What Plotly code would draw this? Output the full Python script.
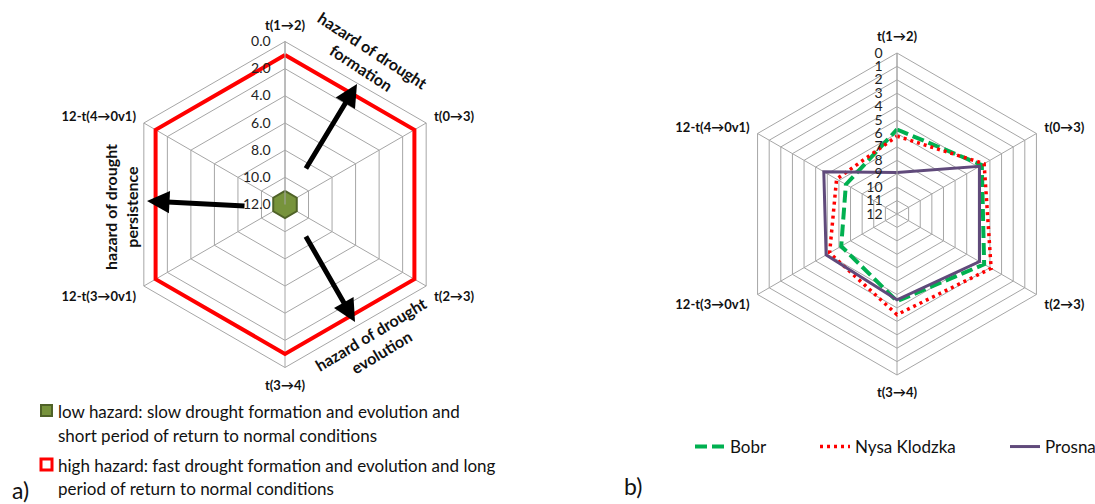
import plotly.graph_objects as go

categories = ["t(1→2)", "t(0→3)", "t(2→3)", "t(3→4)", "12-t(3→0v1)", "12-t(4→0v1)"]

# left panel (a)
low_hazard = [11, 11, 11, 11, 11, 11]
high_hazard = [1, 1, 1, 1, 1, 1]
left_ticks = [0, 2, 4, 6, 8, 10, 12]
left_ticktext = ["0.0", "2.0", "4.0", "6.0", "8.0", "10.0", "12.0"]

# right panel (b)
bobr = [5.7, 4.7, 4.5, 5.5, 7.2, 7.6]
nysa = [6.2, 4.5, 3.9, 4.5, 6.2, 6.8]
prosna = [8.9, 4.9, 4.9, 5.6, 5.9, 5.7]
right_ticks = list(range(0, 13))

FONT = "Lato, 'DejaVu Sans', sans-serif"
GRID = "#A6A6A6"


def close(v):
    return list(v) + [v[0]]


cats_c = close(categories)

fig = go.Figure()

fig.add_trace(go.Scatterpolar(
    r=close(low_hazard), theta=cats_c, mode="lines", fill="toself",
    fillcolor="#77933C", line=dict(color="#4F6228", width=2),
    subplot="polar", showlegend=False))
fig.add_trace(go.Scatterpolar(
    r=close(high_hazard), theta=cats_c, mode="lines",
    line=dict(color="#FF0000", width=4),
    subplot="polar", showlegend=False))

fig.add_trace(go.Scatterpolar(
    r=close(bobr), theta=cats_c, mode="lines", name="Bobr",
    line=dict(color="#00B050", width=4, dash="12px,5px"),
    subplot="polar2", legendwidth=80))
fig.add_trace(go.Scatterpolar(
    r=close(nysa), theta=cats_c, mode="lines", name="Nysa Klodzka",
    line=dict(color="#FF0000", width=3.5, dash="3px,4px"),
    subplot="polar2", legendwidth=145))
fig.add_trace(go.Scatterpolar(
    r=close(prosna), theta=cats_c, mode="lines", name="Prosna",
    line=dict(color="#604A7B", width=3),
    subplot="polar2"))


def polar_layout(domx, domy, tickvals, ticktext):
    return dict(
        domain=dict(x=domx, y=domy),
        gridshape="linear",
        bgcolor="white",
        radialaxis=dict(
            range=[12, 0], tickvals=tickvals, ticktext=ticktext,
            angle=90, side="counterclockwise", tickangle=90,
            showline=True, linecolor=GRID, linewidth=1,
            gridcolor=GRID, gridwidth=1,
            ticks="outside", ticklen=9, tickcolor="rgba(0,0,0,0)",
            tickfont=dict(family=FONT, size=14, color="#222"),
        ),
        angularaxis=dict(
            direction="clockwise", rotation=90, type="category",
            categoryarray=categories,
            showline=True, linecolor=GRID, linewidth=1,
            gridcolor=GRID, gridwidth=1,
            ticks="outside", ticklen=6, tickcolor="rgba(0,0,0,0)",
            tickfont=dict(family=FONT, size=13, color="#111", weight="bold"),
        ),
    )


W, H = 1095, 504
lc = (285, 204.5, 163)
rc = (897, 214, 161)


def dom(c):
    x, y, R = c
    return [(x - R) / W, (x + R) / W], [(H - y - R) / H, (H - y + R) / H]


ldx, ldy = dom(lc)
rdx, rdy = dom(rc)

fig.update_layout(
    width=W, height=H,
    margin=dict(l=0, r=0, t=0, b=0, autoexpand=False),
    paper_bgcolor="white",
    font=dict(family=FONT, size=14, color="#111"),
    polar=polar_layout(ldx, ldy, left_ticks, left_ticktext),
    polar2=polar_layout(rdx, rdy, right_ticks, [str(v) for v in right_ticks]),
    legend=dict(orientation="h", x=690 / W, y=(H - 447) / H, yanchor="middle",
                xanchor="left", font=dict(family=FONT, size=17, color="#111"),
                bgcolor="rgba(0,0,0,0)"),
)


def px(x, y):
    return x / W, (H - y) / H


annotations = []
# arrows (left panel)
for (tx, ty), (hx, hy) in [((305, 170), (357, 84)), ((246, 206), (147, 201)), ((305, 235), (355, 322))]:
    x, y = px(hx, hy)
    annotations.append(dict(x=x, y=y, xref="paper", yref="paper", ax=tx - hx, ay=ty - hy,
                            showarrow=True, arrowhead=2, arrowsize=0.9, arrowwidth=5,
                            arrowcolor="black", text=""))

# rotated labels
for txt, (cx, cy), ang in [
    ("<b>hazard of drought<br>formation</b>", (367, 59), 33),
    ("<b>hazard of drought<br>persistence</b>", (121, 207), -90),
    ("<b>hazard of drought<br>evolution</b>", (376, 343), -31),
]:
    x, y = px(cx, cy)
    annotations.append(dict(x=x, y=y, xref="paper", yref="paper", text=txt, showarrow=False,
                            textangle=ang, font=dict(family=FONT, size=16, color="#111"),
                            xanchor="center", yanchor="middle", align="center"))

# left legend texts
for txt, (x0, yc) in [
    ("low hazard: slow drought formation and evolution and", (56, 411)),
    ("short period of return to normal conditions", (56, 435)),
    ("high hazard: fast drought formation and evolution and long", (56, 465)),
    ("period of return to normal conditions", (56, 488)),
]:
    x, y = px(x0, yc)
    annotations.append(dict(x=x, y=y, xref="paper", yref="paper", text=txt, showarrow=False,
                            xanchor="left", yanchor="middle",
                            font=dict(family=FONT, size=17, color="#111")))

for txt, (x0, yc) in [("a)", (10, 490)), ("b)", (622, 486))]:
    x, y = px(x0, yc)
    annotations.append(dict(x=x, y=y, xref="paper", yref="paper", text=txt, showarrow=False,
                            xanchor="left", yanchor="middle",
                            font=dict(family=FONT, size=23, color="#111")))

fig.update_layout(annotations=annotations)

# legend key squares for panel (a)
shapes = []
for (x0, y0, x1, y1), fillc, linec, lw in [
    ((41, 405, 52, 416), "#77933C", "#4F6228", 2),
    ((41, 459, 52, 470), "white", "#FF0000", 3),
]:
    shapes.append(dict(type="rect", xref="paper", yref="paper",
                       x0=x0 / W, x1=x1 / W, y0=(H - y1) / H, y1=(H - y0) / H,
                       fillcolor=fillc, line=dict(color=linec, width=lw)))
fig.update_layout(shapes=shapes)

fig.write_html("out.html")
